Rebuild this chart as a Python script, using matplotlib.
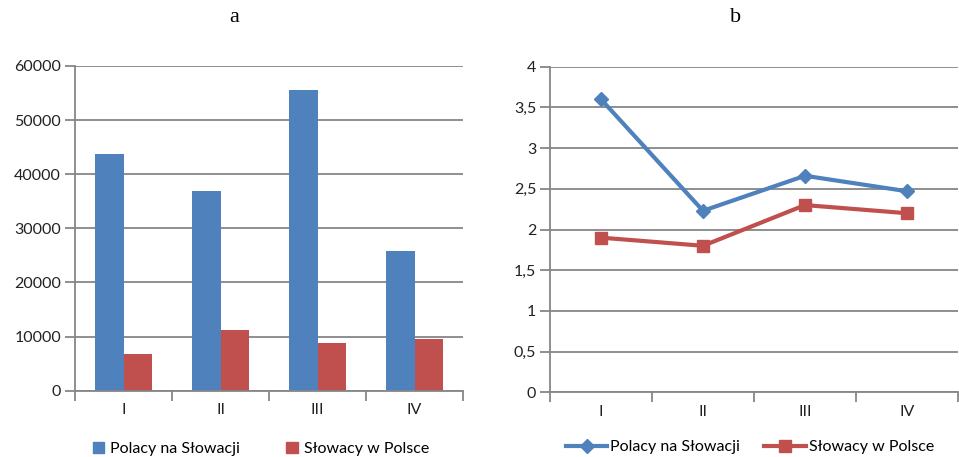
import matplotlib
matplotlib.use("Agg")
import matplotlib.pyplot as plt
import numpy as np
from matplotlib.patches import Patch
from matplotlib.lines import Line2D

kategorie = ["I", "II", "III", "IV"]
polacy_liczba = [43800, 36900, 55500, 25800]
slowacy_liczba = [6700, 11200, 8900, 9500]
polacy_wsk = [3.6, 2.23, 2.66, 2.47]
slowacy_wsk = [1.9, 1.8, 2.3, 2.2]
seria = ["Polacy na Słowacji", "Słowacy w Polsce"]

niebieski = "#4F81BD"
czerwony = "#C0504D"
szary = "#868686"
fs = 11.5

plt.rcParams["font.family"] = ["Lato", "DejaVu Sans"]

W, H = 959, 457
fig = plt.figure(figsize=(W / 100, H / 100), dpi=100)


def px(x0, y0, x1, y1):
    return [x0 / W, 1 - y1 / H, (x1 - x0) / W, (y1 - y0) / H]


def styl(ax):
    for s in ["top", "right"]:
        ax.spines[s].set_visible(False)
    for s in ["left", "bottom"]:
        ax.spines[s].set_color(szary)
        ax.spines[s].set_linewidth(1.3)
    ax.grid(axis="y", color=szary, linewidth=1.3)
    ax.set_axisbelow(True)
    ax.tick_params(axis="y", length=7, width=1.3, color=szary, pad=3,
                   labelsize=fs, labelcolor="#222222")
    ax.tick_params(axis="x", which="major", length=0, pad=9,
                   labelsize=fs, labelcolor="#222222")
    ax.tick_params(axis="x", which="minor", length=7, width=1.3, color=szary)
    ax.set_xticks(np.arange(-0.5, 4, 1), minor=True)
    ax.set_xticks(np.arange(4))
    ax.set_xticklabels(kategorie)
    ax.set_xlim(-0.5, 3.5)


# wykres a - liczebność
ax1 = fig.add_axes(px(75, 66, 463, 390.7))
x = np.arange(4)
w = 0.29
ax1.bar(x - w / 2, polacy_liczba, w, color=niebieski, label=seria[0])
ax1.bar(x + w / 2, slowacy_liczba, w, color=czerwony, label=seria[1])
ax1.set_ylim(0, 60000)
ax1.set_yticks(range(0, 60001, 10000))
styl(ax1)
fig.text(234 / W, 1 - 17 / H, "a", family="Liberation Serif", fontsize=16,
         ha="center", va="center")

fig.legend(handles=[Patch(color=niebieski, label=seria[0]),
                    Patch(color=czerwony, label=seria[1])],
           loc="center", bbox_to_anchor=(261 / W, 1 - 449 / H), ncol=2,
           frameon=False, fontsize=fs, handlelength=0.7, handleheight=0.7,
           handletextpad=0.4, columnspacing=2.9)

# wykres b - wskaźnik
ax2 = fig.add_axes(px(550, 66.7, 958, 392.3))
ax2.plot(x, polacy_wsk, color=niebieski, linewidth=3, marker="D",
         markersize=7)
ax2.plot(x, slowacy_wsk, color=czerwony, linewidth=3, marker="s",
         markersize=9)
ax2.set_ylim(0, 4)
ax2.set_yticks(np.arange(0, 4.01, 0.5))
ax2.set_yticklabels([f"{v:g}".replace(".", ",") for v in np.arange(0, 4.01, 0.5)])
styl(ax2)
fig.text(736 / W, 1 - 17 / H, "b", family="Liberation Serif", fontsize=16,
         ha="center", va="center")

fig.legend(handles=[Line2D([], [], color=niebieski, lw=3, marker="D", ms=7,
                           label=seria[0]),
                    Line2D([], [], color=czerwony, lw=3, marker="s", ms=9,
                           label=seria[1])],
           loc="center", bbox_to_anchor=(750 / W, 1 - 447 / H), ncol=2,
           frameon=False, fontsize=fs, handlelength=2.6,
           handletextpad=0.2, columnspacing=1.5)

fig.savefig("out.png", dpi=100)
